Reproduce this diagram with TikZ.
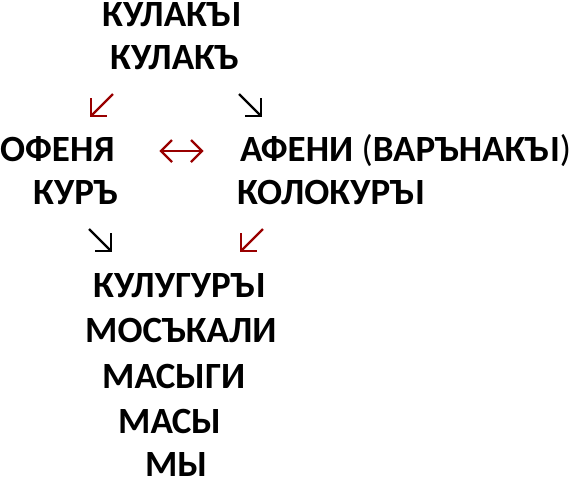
\documentclass[tikz,border=0pt]{standalone}
\usepackage{fontspec}
\setmainfont{Carlito}
\definecolor{arrred}{HTML}{990000}
\newcommand{\ZI}{Ъ\kern1.5pt I}
\begin{document}
\begin{tikzpicture}[x=1pt,y=1pt,
  word/.style={anchor=base west, inner sep=0pt, font=\fontsize{37}{40}\selectfont\bfseries},
  glyph/.style={line width=2.4pt, line join=miter, line cap=butt},
  pics/swarrow/.style={code={
    \draw[glyph] (22,22) -- (0,0);
    \draw[glyph] (0,18) -- (0,0) -- (16,0);}},
  pics/searrow/.style={code={
    \draw[glyph] (-22,22) -- (0,0);
    \draw[glyph] (0,18) -- (0,0) -- (-16,0);}}
]
\useasboundingbox (0,0) rectangle (570,-480);
\node[word] (kulaky) at (102,-26) {КУЛАК\ZI};
\node[word] (kulak) at (110,-69) {КУЛАКЪ};
\pic[arrred] at (91,-116) {swarrow};
\pic[black] at (261,-116) {searrow};
\node[word] (ofenya) at (0,-161) {ОФЕНЯ};
\coordinate (lrA) at (161,-151);
\coordinate (lrB) at (202,-151);
\draw[arrred, glyph] (lrA) -- (lrB);
\draw[arrred, glyph] ([shift={(11,11)}]lrA) -- (lrA) -- ([shift={(11,-11)}]lrA);
\draw[arrred, glyph] ([shift={(-11,11)}]lrB) -- (lrB) -- ([shift={(-11,-11)}]lrB);
\node[word] (afeni) at (240,-161) {АФЕНИ {\mdseries(}ВАРЪНАК\ZI{\mdseries)}};
\node[word] (kur) at (33,-204) {КУРЪ};
\node[word] (kolokur) at (237,-204) {КОЛОКУР\ZI};
\pic[black] at (111,-251) {searrow};
\pic[arrred] at (241,-251) {swarrow};
\node[word] (kulugur) at (93,-297) {КУЛУГУР\ZI};
\node[word] (mosk) at (85,-342) {МОСЪКАЛИ};
\node[word] (masygi) at (102,-388) {МАСЫГИ};
\node[word] (masy) at (118,-433) {МАСЫ};
\node[word] (my) at (145,-476) {МЫ};
\end{tikzpicture}
\end{document}
